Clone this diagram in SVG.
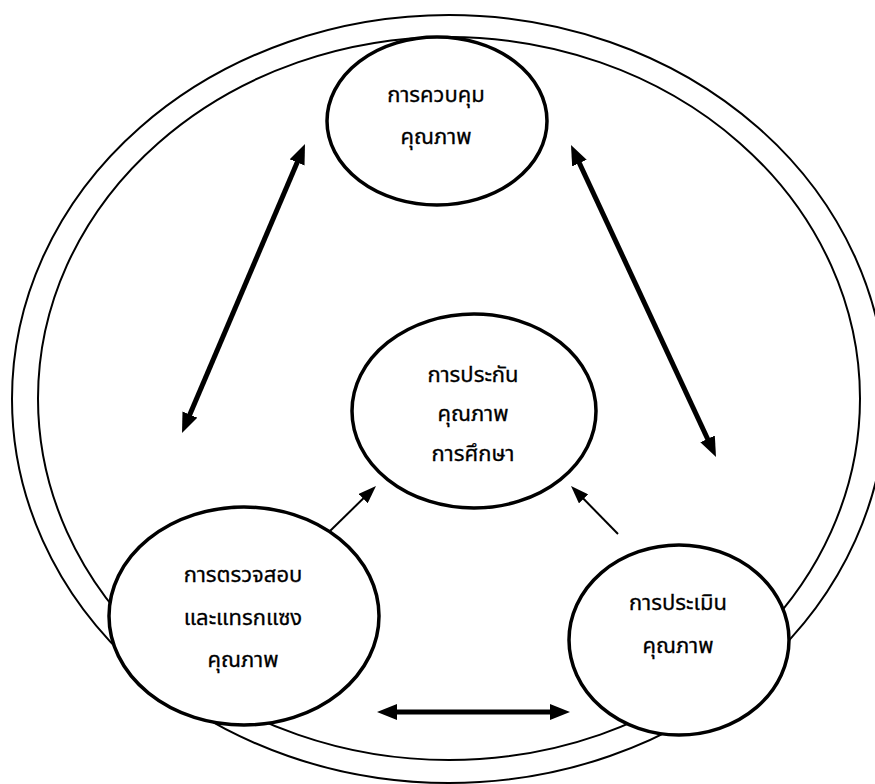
<svg xmlns="http://www.w3.org/2000/svg" width="875" height="784" viewBox="0 0 875 784">
  <style>
    .ring { fill: none; stroke: #000; stroke-width: 2; }
    .node { fill: #fff; stroke: #000; stroke-width: 3.5; }
    .label { font-family: "Noto Sans Thai", "Noto Sans", "DejaVu Sans", sans-serif; font-size: 22px; fill: #000; stroke: #000; stroke-width: 0.3; text-anchor: middle; }
    .thick { stroke: #000; stroke-width: 5; fill: none; marker-start: url(#headBig); marker-end: url(#headBig); }
    .thin { stroke: #000; stroke-width: 2; fill: none; marker-end: url(#headSmall); }
  </style>
  <defs>
    <marker id="headBig" markerUnits="userSpaceOnUse" markerWidth="20" markerHeight="16" refX="6" refY="8" orient="auto-start-reverse">
      <path d="M0,0 L20,8 L0,16 z" fill="#000"/>
    </marker>
    <marker id="headSmall" markerUnits="userSpaceOnUse" markerWidth="18" markerHeight="13" refX="4" refY="6.5" orient="auto">
      <path d="M0,0 L18,6.5 L0,13 z" fill="#000"/>
    </marker>
  </defs>

  <rect width="875" height="784" fill="#fff"/>

  <!-- double outer boundary -->
  <g id="boundary">
    <ellipse class="ring" cx="449" cy="399" rx="437" ry="384"/>
    <ellipse class="ring" cx="449" cy="398.5" rx="411" ry="361.5"/>
  </g>

  <!-- connectors -->
  <g id="connectors">
    <line class="thick" x1="299.5" y1="156.9" x2="187.5" y2="420.1"/>
    <line class="thick" x1="576.9" y1="157.7" x2="710.1" y2="444.3"/>
    <line class="thick" x1="391" y1="712" x2="556" y2="712"/>
    <line class="thin" x1="330" y1="531" x2="366" y2="495.8"/>
    <line class="thin" x1="618" y1="534" x2="580.8" y2="496"/>
  </g>

  <g id="node-control">
    <ellipse class="node" cx="437" cy="121" rx="110" ry="84"/>
    <text class="label" x="436" y="102">การควบคุม</text>
    <text class="label" x="436" y="144">คุณภาพ</text>
  </g>

  <g id="node-assurance">
    <ellipse class="node" cx="474" cy="411" rx="122" ry="97"/>
    <text class="label" x="473" y="382">การประกัน</text>
    <text class="label" x="473" y="421">คุณภาพ</text>
    <text class="label" x="473" y="461">การศึกษา</text>
  </g>

  <g id="node-audit">
    <ellipse class="node" cx="244" cy="616" rx="135" ry="109"/>
    <text class="label" x="243" y="582">การตรวจสอบ</text>
    <text class="label" x="243" y="625">และแทรกแซง</text>
    <text class="label" x="243" y="667">คุณภาพ</text>
  </g>

  <g id="node-evaluation">
    <ellipse class="node" cx="679" cy="640" rx="110" ry="95"/>
    <text class="label" x="678" y="610">การประเมิน</text>
    <text class="label" x="678" y="653">คุณภาพ</text>
  </g>
</svg>
